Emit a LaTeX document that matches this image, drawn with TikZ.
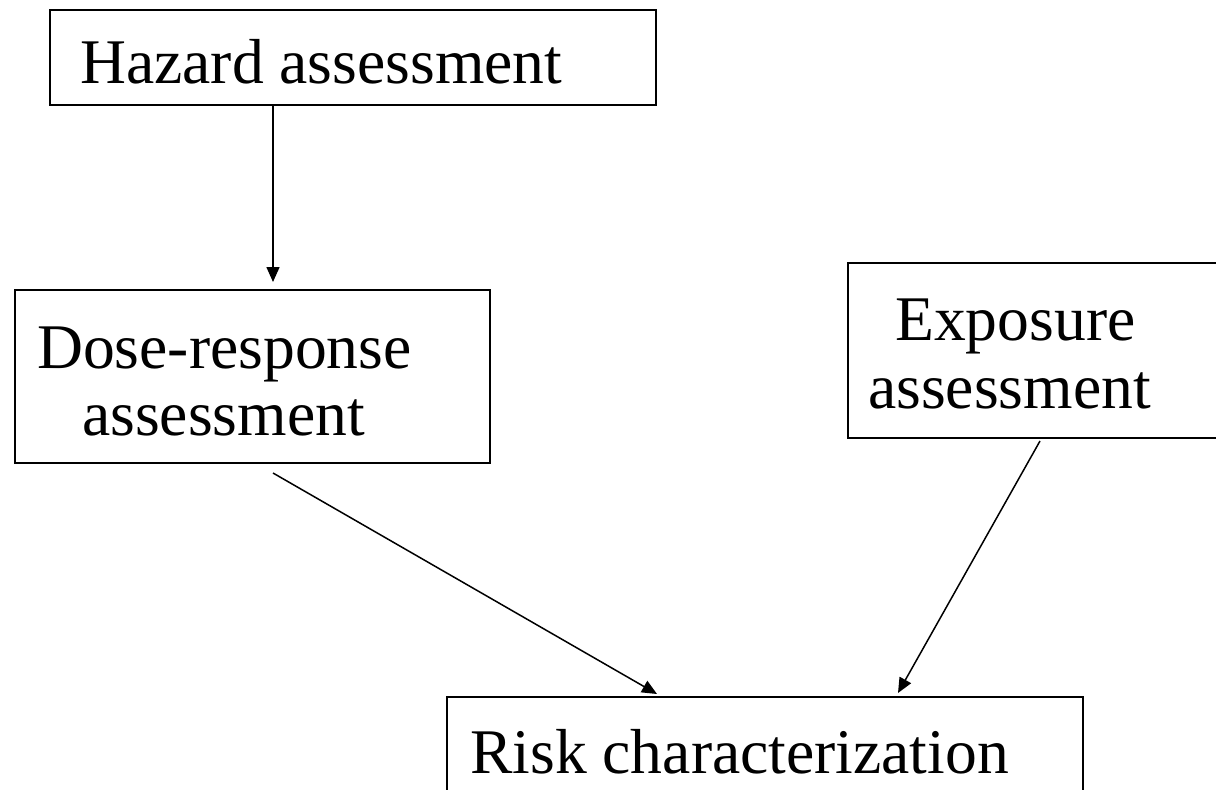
\documentclass[tikz,border=0pt]{standalone}
\usepackage{fontspec}
\setmainfont{Liberation Serif}
\usetikzlibrary{arrows.meta}
\begin{document}
\begin{tikzpicture}[x=1pt,y=-1pt,
  box/.style={draw,line width=2pt,inner sep=0pt,rectangle},
  lbl/.style={anchor=base west,inner sep=0pt,font=\fontsize{63.6}{67}\selectfont},
  conn/.style={line width=1.5pt,-{Triangle[length=15pt,width=13pt]}}]
\useasboundingbox (0,0) rectangle (1216,790);
% boxes
\node[box,minimum width=606pt,minimum height=95pt] (haz) at (353,57.5) {};
\node[box,minimum width=475pt,minimum height=173pt] (dose) at (252.5,376.5) {};
\node[box,minimum width=382pt,minimum height=175pt] (expo) at (1039,350.5) {};
\node[box,minimum width=636pt,minimum height=103pt] (risk) at (765,748.5) {};
% labels
\node[lbl] (tHaz) at (80,83) {Hazard assessment};
\node[lbl] (tDose1) at (37,368) {Dose-response};
\node[lbl] (tDose2) at (82,435) {assessment};
\node[lbl] (tExpo1) at (895,340) {Exposure};
\node[lbl] (tExpo2) at (868,408) {assessment};
\node[lbl] (tRisk) at (470,773) {Risk characterization};
% connector ends
\coordinate (hs) at (273,105);
\coordinate (dt) at (273,282);
\coordinate (ds) at (273,473);
\coordinate (rt1) at (657,694);
\coordinate (es) at (1040,441);
\coordinate (rt2) at (898,693);
\draw[conn] (hs) -- (dt);
\draw[conn] (ds) -- (rt1);
\draw[conn] (es) -- (rt2);
\end{tikzpicture}
\end{document}
